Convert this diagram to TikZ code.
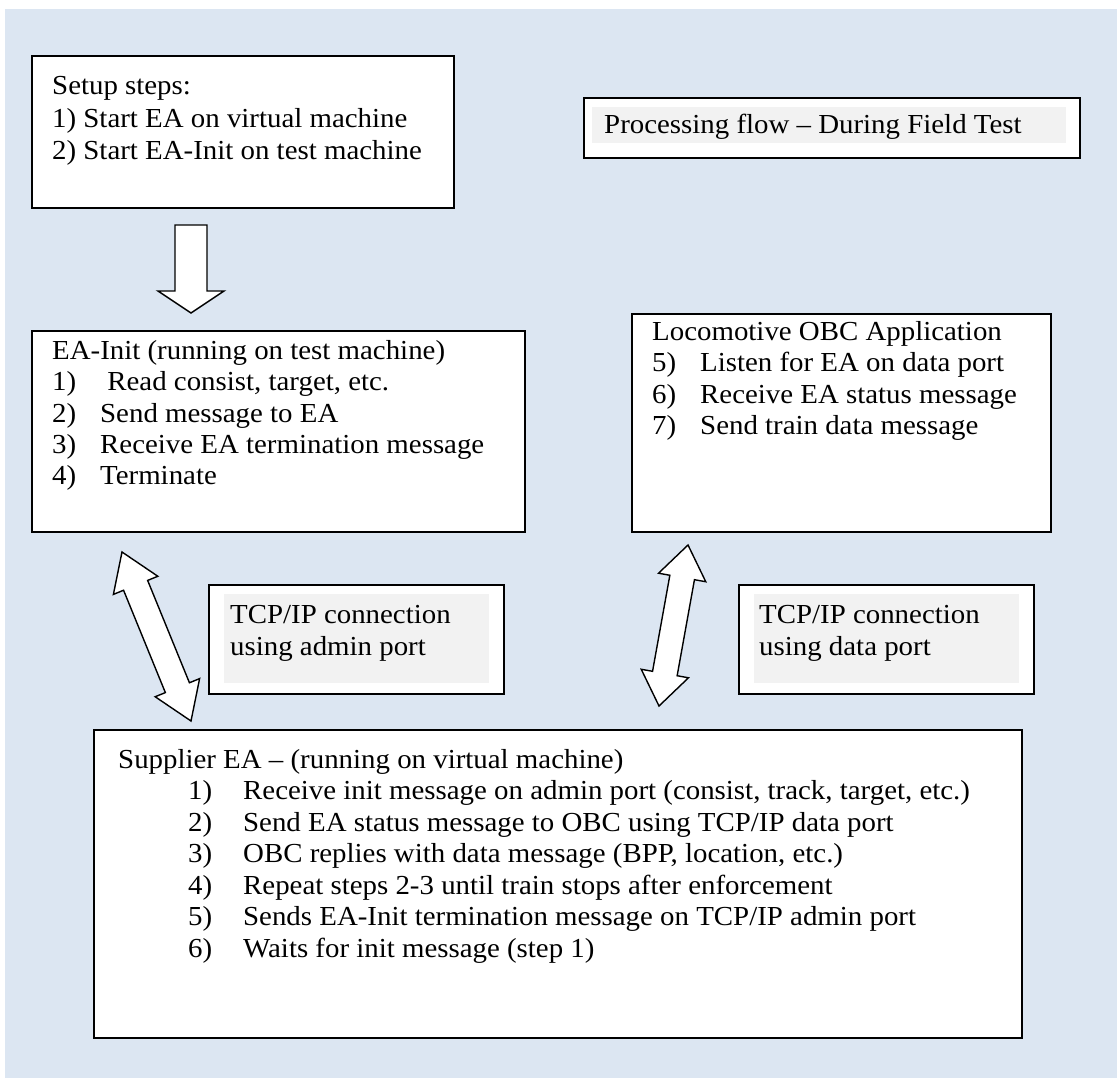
\documentclass[tikz,border=0pt]{standalone}
\usepackage{fontspec}
\setmainfont{Liberation Serif}[FakeStretch=1.05]
\usetikzlibrary{calc}
\definecolor{panelblue}{HTML}{DCE6F2}
\definecolor{labelgrey}{HTML}{F2F2F2}
\tikzset{
  frame/.style={draw=black, line width=1.8pt, fill=white, anchor=north west, inner sep=0pt},
  greyband/.style={fill=labelgrey, draw=none, anchor=north west, inner sep=0pt},
  blockarrow/.style={draw=black, line width=1.4pt, fill=white, line join=miter},
  txt/.style={anchor=base west, inner sep=0pt, font=\fontsize{27.5}{31.5}\selectfont},
  txtwide/.style={anchor=base west, inner sep=0pt, font=\fontsize{27.5}{32.5}\selectfont},
}
% double-headed block arrow between two named points:
% #1,#2 tips, #3 shaft half width, #4 head half width, #5 head length
\newcommand\blockdouble[5]{%
  \draw[blockarrow] (#1)
    -- ($(#1)!#5!(#2)!#4!90:(#2)$)
    -- ($(#1)!#5!(#2)!#3!90:(#2)$)
    -- ($(#2)!#5!(#1)!#3!-90:(#1)$)
    -- ($(#2)!#5!(#1)!#4!-90:(#1)$)
    -- (#2)
    -- ($(#2)!#5!(#1)!#4!90:(#1)$)
    -- ($(#2)!#5!(#1)!#3!90:(#1)$)
    -- ($(#1)!#5!(#2)!#3!-90:(#2)$)
    -- ($(#1)!#5!(#2)!#4!-90:(#2)$)
    -- cycle;}
\begin{document}
\begin{tikzpicture}[x=1pt,y=-1pt]
\useasboundingbox (0,0) rectangle (1117,1078);
\fill[panelblue] (5,9) rectangle (1117,1078);

% ---- setup box
\node[frame, minimum width=422pt, minimum height=152pt] (setup) at (31,55) {};
\node[txtwide] (setuptext) at (52,95) {\begin{tabular}[t]{@{}l@{}}
Setup steps:\\
1) Start EA on virtual machine\\
2) Start EA-Init on test machine
\end{tabular}};

% ---- title box
\node[frame, minimum width=496pt, minimum height=60pt] (title) at (583,97) {};
\node[greyband, minimum width=474pt, minimum height=36pt] (titleband) at (592,107) {};
\node[txt] (titletext) at (604,134) {Processing flow – During Field Test};

% ---- EA-Init box
\node[frame, minimum width=493pt, minimum height=201pt] (eainit) at (31,330) {};
\node[txt] (eainittext) at (52,359) {\begin{tabular}[t]{@{}l@{}}
EA-Init (running on test machine)\\
\makebox[48pt][l]{1)}\ Read consist, target, etc.\\
\makebox[48pt][l]{2)}Send message to EA\\
\makebox[48pt][l]{3)}Receive EA termination message\\
\makebox[48pt][l]{4)}Terminate
\end{tabular}};

% ---- locomotive box
\node[frame, minimum width=419pt, minimum height=218pt] (loco) at (631,313) {};
\node[txt] (locotext) at (652,340) {\begin{tabular}[t]{@{}l@{}}
Locomotive OBC Application\\
\makebox[48pt][l]{5)}Listen for EA on data port\\
\makebox[48pt][l]{6)}Receive EA status message\\
\makebox[48pt][l]{7)}Send train data message
\end{tabular}};

% ---- connection labels
\node[frame, minimum width=295pt, minimum height=109pt] (adminlbl) at (208,584) {};
\node[greyband, minimum width=265pt, minimum height=89pt] (adminband) at (224,594) {};
\node[txtwide] (admintext) at (230,623) {\begin{tabular}[t]{@{}l@{}}
TCP/IP connection\\ using admin port\end{tabular}};

\node[frame, minimum width=295pt, minimum height=109pt] (datalbl) at (738,584) {};
\node[greyband, minimum width=265pt, minimum height=89pt] (databand) at (754,594) {};
\node[txtwide] (datatext) at (759,623) {\begin{tabular}[t]{@{}l@{}}
TCP/IP connection\\ using data port\end{tabular}};

% ---- supplier box
\node[frame, minimum width=928pt, minimum height=308pt] (supplier) at (93,729) {};
\node[txt] (suppliertext) at (118,768) {\begin{tabular}[t]{@{}l@{}}
Supplier EA – (running on virtual machine)\\
\hspace*{70pt}\makebox[55pt][l]{1)}Receive init message on admin port (consist, track, target, etc.)\\
\hspace*{70pt}\makebox[55pt][l]{2)}Send EA status message to OBC using TCP/IP data port\\
\hspace*{70pt}\makebox[55pt][l]{3)}OBC replies with data message (BPP, location, etc.)\\
\hspace*{70pt}\makebox[55pt][l]{4)}Repeat steps 2-3 until train stops after enforcement\\
\hspace*{70pt}\makebox[55pt][l]{5)}Sends EA-Init termination message on TCP/IP admin port\\
\hspace*{70pt}\makebox[55pt][l]{6)}Waits for init message (step 1)
\end{tabular}};

% ---- setup -> EA-Init block arrow
\coordinate (dntop) at (191,225);
\coordinate (dntip) at (191,313);
\draw[blockarrow] ($(dntop)+(-16,0)$) -- ($(dntop)+(16,0)$) -- ($(dntip)+(16,-22)$)
  -- ($(dntip)+(33,-22)$) -- (dntip) -- ($(dntip)+(-33,-22)$) -- ($(dntip)+(-16,-22)$) -- cycle;

% ---- two-way connections
\coordinate (admA) at (122,552);
\coordinate (admB) at (191,721);
\blockdouble{admA}{admB}{13pt}{24pt}{36pt}
\coordinate (datA) at (688,545);
\coordinate (datB) at (659,706);
\blockdouble{datA}{datB}{12.5pt}{24pt}{33pt}
\end{tikzpicture}
\end{document}
